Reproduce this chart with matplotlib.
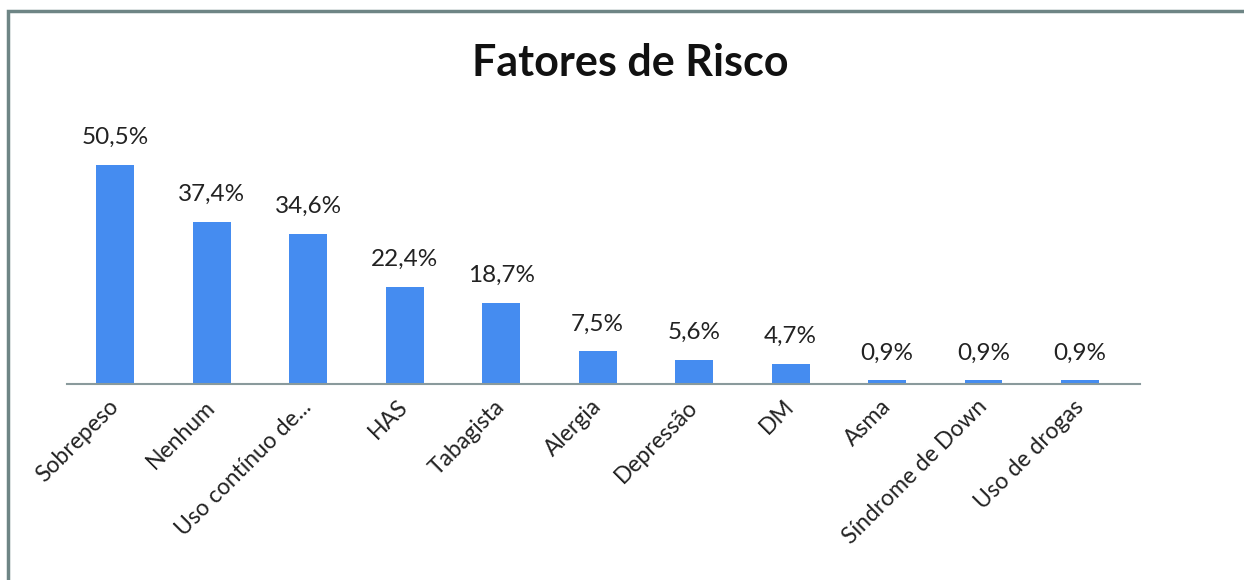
import matplotlib.pyplot as plt
from matplotlib.patches import Rectangle

categorias = ['Sobrepeso', 'Nenhum', 'Uso contínuo de...', 'HAS', 'Tabagista', 'Alergia',
              'Depressão', 'DM', 'Asma', 'Síndrome de Down', 'Uso de drogas']
valores = [50.5, 37.4, 34.6, 22.4, 18.7, 7.5, 5.6, 4.7, 0.9, 0.9, 0.9]
rotulos = ['50,5%', '37,4%', '34,6%', '22,4%', '18,7%', '7,5%', '5,6%', '4,7%', '0,9%', '0,9%', '0,9%']

plt.rcParams['font.family'] = ['Lato', 'DejaVu Sans']

fig = plt.figure(figsize=(12.44, 5.8), dpi=100)
ax = fig.add_axes([67 / 1244, 1 - 384 / 580, (1140 - 67) / 1244, (384 - 140) / 580])

x = range(len(categorias))
ax.bar(x, valores, width=0.39, color='#458cf0')
for i, (v, r) in enumerate(zip(valores, rotulos)):
    ax.annotate(r, (i, v), xytext=(0, 12), textcoords='offset points',
                ha='center', va='bottom', fontsize=17.5, color='#222222')

ax.set_xlim(-0.5, 10.62)
ax.set_ylim(0, 56.2)
ax.set_yticks([])
ax.set_xticks(list(x))
ax.set_xticklabels(categorias, rotation=45, ha='right', va='center', rotation_mode='anchor',
                   fontsize=16.5, color='#222222')
ax.tick_params(axis='x', length=0, pad=14)
for s in ['top', 'right', 'left']:
    ax.spines[s].set_visible(False)
ax.spines['bottom'].set_color('#8a9a9c')
ax.spines['bottom'].set_linewidth(1.5)

fig.text(630 / 1244, 1 - 63 / 580, 'Fatores de Risco', ha='center', va='center',
         fontsize=31, fontweight='bold', color='#111111')

# moldura
fig.patches.append(Rectangle((8 / 1244, -0.1), 1.2, 1 - 11 / 580 + 0.1,
                             transform=fig.transFigure, fill=False,
                             edgecolor='#6e8585', linewidth=2.5))

fig.savefig('out.png', dpi=100)
